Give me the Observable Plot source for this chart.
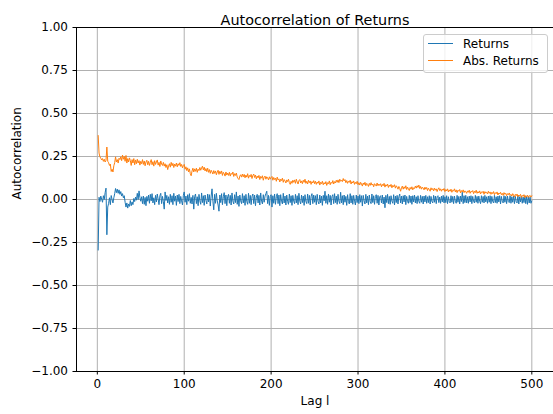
<!DOCTYPE html>
<html>
<head>
<meta charset="utf-8">
<script src="https://cdn.jsdelivr.net/npm/d3@7"></script>
<script src="https://cdn.jsdelivr.net/npm/@observablehq/plot@0.6"></script>
<style>
  body { margin: 0; background: #fff; }
  #wrap { position: relative; width: 553px; height: 414px; font-family: "DejaVu Sans", sans-serif; }
  #legend { position: absolute; left: 423px; top: 34px; }
</style>
</head>
<body>
<div id="wrap"></div>
<script>
const title = "Autocorrelation of Returns";
const xLabel = "Lag l";
const yLabel = "Autocorrelation";
const seriesNames = ["Returns", "Abs. Returns"];
const seriesColors = ["#1f77b4", "#ff7f0e"];
const xTicks = [0, 100, 200, 300, 400, 500];
const yTicks = [-1, -0.75, -0.5, -0.25, 0, 0.25, 0.5, 0.75, 1];

// autocorrelation of returns, lags 1..500
const returns = [
-0.294,0.013,-0.012,0.020,0.002,-0.016,0.022,0.000,0.040,0.066,-0.205,-0.044,-0.022,0.010,-0.030,0.023,0.000,-0.020,0.010,0.034,0.064,0.040,0.060,0.036,0.056,
0.030,0.046,0.020,0.034,0.010,0.022,-0.016,-0.044,-0.020,-0.050,-0.026,-0.040,-0.006,-0.036,-0.014,-0.030,0.006,-0.012,0.014,-0.004,0.036,0.000,0.050,0.012,-0.010,
0.016,-0.024,0.020,-0.028,0.012,-0.036,0.018,-0.010,0.026,-0.022,0.030,-0.008,0.034,-0.020,0.010,-0.030,0.024,-0.014,0.032,0.002,-0.030,0.022,0.036,-0.024,0.018,
-0.012,-0.056,0.044,-0.006,0.024,-0.020,0.016,-0.028,0.030,-0.016,0.022,-0.030,0.036,-0.010,0.020,-0.034,0.026,-0.012,0.030,-0.024,0.018,-0.008,-0.032,0.024,0.044,
-0.016,0.020,-0.030,0.028,-0.010,0.034,-0.022,0.012,-0.026,0.024,-0.056,0.018,0.032,-0.024,0.016,-0.036,0.030,-0.008,-0.028,0.038,-0.018,0.022,-0.034,0.026,-0.006,
-0.026,0.032,-0.014,0.028,-0.038,0.020,0.062,-0.010,-0.060,0.030,-0.022,0.036,-0.008,-0.032,-0.068,0.026,-0.018,0.034,-0.030,0.016,0.040,-0.024,0.026,-0.036,0.018,
0.030,-0.022,0.024,-0.032,0.038,-0.010,-0.026,0.028,-0.018,0.044,-0.028,0.020,-0.040,0.026,-0.008,-0.024,0.034,-0.020,0.022,-0.034,0.030,-0.012,-0.028,0.036,-0.022,
0.024,-0.030,0.018,0.032,-0.024,0.026,-0.036,0.014,0.030,-0.020,0.024,-0.032,0.038,-0.010,-0.026,0.028,-0.016,0.020,0.034,0.048,-0.024,0.024,-0.034,0.018,0.028,
-0.044,0.022,-0.022,0.032,-0.028,0.016,0.034,-0.024,0.026,-0.036,0.028,-0.010,-0.026,0.036,-0.020,0.020,-0.032,0.026,-0.012,-0.028,0.032,-0.018,0.022,-0.034,0.024,
-0.010,-0.024,0.030,-0.020,0.022,-0.030,0.036,-0.010,-0.026,0.026,-0.018,0.020,-0.034,0.028,-0.012,-0.024,0.032,-0.022,0.024,-0.032,0.018,0.034,-0.024,0.026,-0.016,
0.022,-0.030,0.030,-0.012,-0.026,0.026,-0.020,0.020,-0.034,0.024,-0.008,0.048,-0.022,0.022,-0.028,0.032,-0.016,0.024,-0.032,0.018,0.028,-0.024,0.034,-0.018,0.020,
-0.028,0.030,-0.010,-0.024,0.042,-0.020,0.022,-0.030,0.026,-0.016,0.018,-0.034,0.028,-0.012,-0.026,0.034,-0.020,0.022,-0.028,0.024,-0.010,-0.032,0.026,-0.018,0.020,
-0.024,0.028,-0.016,0.022,-0.038,0.024,-0.008,-0.026,0.030,-0.020,0.020,-0.030,0.026,-0.012,-0.024,0.032,-0.018,0.022,-0.028,0.018,0.028,-0.022,0.024,-0.032,0.016,
0.022,-0.020,0.026,-0.026,0.014,-0.048,0.024,-0.018,0.030,-0.024,0.018,-0.028,0.022,-0.010,-0.022,0.028,-0.032,0.020,-0.018,0.024,-0.026,0.016,0.032,-0.020,0.020,
-0.026,0.022,-0.014,0.026,-0.030,0.018,-0.012,-0.022,0.024,-0.018,0.020,-0.028,0.022,-0.014,0.026,-0.020,0.016,-0.024,0.022,-0.012,-0.022,0.024,-0.016,0.018,-0.026,
0.020,-0.014,0.024,-0.022,0.016,-0.018,0.022,-0.026,0.018,-0.012,-0.020,0.024,-0.016,0.020,-0.024,0.016,0.022,-0.018,0.014,-0.022,0.020,-0.014,0.024,-0.020,0.016,
-0.018,0.022,-0.024,0.016,-0.012,-0.020,0.022,-0.016,0.018,-0.024,0.020,-0.010,-0.022,0.024,-0.016,0.018,-0.026,0.020,-0.012,0.042,-0.024,0.022,-0.018,0.024,-0.020,
0.016,-0.022,0.020,-0.014,0.022,-0.024,0.018,-0.012,-0.020,0.024,-0.016,0.018,-0.022,0.020,-0.010,-0.024,0.022,-0.016,0.018,-0.020,0.024,-0.014,0.016,-0.022,0.020,
-0.016,0.022,-0.024,0.018,-0.012,-0.020,0.024,-0.018,0.016,-0.022,0.020,-0.014,0.022,-0.026,0.018,-0.010,-0.020,0.022,-0.016,0.018,-0.024,0.020,-0.012,-0.018,0.022,
-0.022,0.016,-0.016,0.020,-0.024,0.018,-0.012,-0.020,0.022,-0.026,0.016,-0.014,0.020,-0.022,0.014,-0.018,0.022,-0.024,0.016,-0.028,0.018,-0.020,0.014,-0.022,-0.008
];

// autocorrelation of absolute returns, lags 1..500
const absReturns = [
0.372,0.270,0.248,0.240,0.230,0.238,0.222,0.234,0.218,0.228,0.305,0.222,0.214,0.198,0.206,0.163,0.176,0.160,0.196,0.214,0.248,0.218,0.232,0.212,0.240,
0.232,0.248,0.226,0.258,0.234,0.250,0.222,0.256,0.212,0.238,0.218,0.242,0.226,0.198,0.232,0.212,0.238,0.202,0.230,0.208,0.234,0.212,0.226,0.200,0.222,
0.208,0.232,0.204,0.224,0.196,0.218,0.228,0.202,0.222,0.198,0.216,0.232,0.202,0.220,0.194,0.226,0.204,0.218,0.230,0.200,0.216,0.192,0.224,0.206,0.198,
0.216,0.194,0.208,0.186,0.202,0.174,0.194,0.208,0.188,0.216,0.196,0.210,0.186,0.206,0.194,0.212,0.190,0.208,0.198,0.214,0.192,0.204,0.184,0.198,0.204,
0.176,0.190,0.168,0.184,0.160,0.178,0.150,0.138,0.166,0.182,0.160,0.178,0.164,0.182,0.158,0.176,0.168,0.186,0.170,0.184,0.194,0.172,0.188,0.166,0.180,
0.162,0.182,0.158,0.174,0.152,0.170,0.160,0.148,0.168,0.152,0.166,0.144,0.160,0.170,0.146,0.164,0.150,0.166,0.140,0.158,0.150,0.136,0.160,0.142,0.154,
0.140,0.158,0.136,0.152,0.146,0.160,0.134,0.150,0.140,0.154,0.130,0.122,0.116,0.136,0.144,0.130,0.148,0.132,0.146,0.126,0.142,0.130,0.150,0.124,0.140,
0.132,0.146,0.122,0.140,0.148,0.128,0.142,0.120,0.136,0.126,0.140,0.116,0.134,0.124,0.138,0.112,0.130,0.136,0.118,0.132,0.126,0.114,0.132,0.118,0.128,
0.134,0.112,0.128,0.116,0.124,0.106,0.130,0.114,0.120,0.102,0.118,0.110,0.124,0.100,0.116,0.108,0.096,0.114,0.104,0.118,0.098,0.088,0.106,0.094,0.112,
0.100,0.114,0.094,0.118,0.102,0.090,0.110,0.116,0.096,0.108,0.092,0.112,0.100,0.118,0.094,0.106,0.090,0.112,0.098,0.108,0.088,0.104,0.096,0.110,0.092,
0.106,0.088,0.102,0.094,0.108,0.084,0.100,0.092,0.106,0.086,0.098,0.090,0.104,0.082,0.098,0.092,0.108,0.086,0.100,0.094,0.110,0.090,0.104,0.096,0.112,
0.100,0.114,0.098,0.118,0.106,0.112,0.104,0.122,0.108,0.116,0.098,0.110,0.094,0.106,0.100,0.112,0.090,0.104,0.096,0.108,0.088,0.100,0.092,0.106,0.086,
0.098,0.084,0.100,0.090,0.078,0.096,0.086,0.100,0.080,0.094,0.088,0.076,0.094,0.082,0.098,0.084,0.090,0.074,0.092,0.086,0.078,0.096,0.080,0.090,0.082,
0.092,0.074,0.088,0.080,0.094,0.072,0.086,0.078,0.090,0.070,0.084,0.076,0.088,0.068,0.082,0.074,0.086,0.066,0.080,0.072,0.060,0.076,0.064,0.048,0.068,
0.078,0.060,0.074,0.064,0.080,0.058,0.072,0.062,0.052,0.070,0.060,0.074,0.056,0.068,0.064,0.078,0.066,0.080,0.070,0.084,0.064,0.076,0.060,0.072,0.066,
0.056,0.072,0.060,0.070,0.052,0.066,0.058,0.048,0.068,0.056,0.064,0.050,0.066,0.054,0.062,0.046,0.060,0.068,0.052,0.062,0.048,0.060,0.054,0.064,0.046,
0.058,0.050,0.062,0.044,0.056,0.048,0.060,0.042,0.054,0.050,0.062,0.044,0.056,0.040,0.054,0.048,0.058,0.038,0.052,0.044,0.056,0.040,0.050,0.046,0.036,
0.050,0.042,0.054,0.036,0.048,0.044,0.052,0.034,0.048,0.040,0.054,0.036,0.046,0.038,0.050,0.032,0.044,0.040,0.048,0.030,0.046,0.038,0.042,0.032,0.048,
0.036,0.044,0.030,0.042,0.034,0.046,0.028,0.040,0.034,0.044,0.026,0.038,0.032,0.042,0.028,0.036,0.024,0.040,0.030,0.036,0.022,0.034,0.028,0.038,0.024,
0.030,0.020,0.034,0.026,0.014,0.030,0.022,0.032,0.016,0.026,0.020,0.030,0.012,0.024,0.018,0.028,0.010,0.022,0.016,0.026,0.012,0.020,0.024,0.014,0.022
];

const lags = returns.map((_, i) => i + 1);
const rows = lags.map((lag, i) => ({lag, returns: returns[i], absReturns: absReturns[i]}));

const fmtY = d => (d < 0 ? "\u2212" : "") + Math.abs(d).toFixed(2);

const chart = Plot.plot({
  width: 553,
  height: 414,
  marginLeft: 76,
  marginRight: 0,
  marginTop: 27,
  marginBottom: 43,
  style: {fontFamily: "'DejaVu Sans', sans-serif", fontSize: "12px", color: "#000", background: "#fff", overflow: "visible"},
  x: {domain: [-23.95, 524.95]},
  y: {domain: [-1, 1]},
  marks: [
    Plot.gridX(xTicks, {stroke: "#b0b0b0", strokeOpacity: 1, strokeWidth: 1}),
    Plot.gridY(yTicks, {stroke: "#b0b0b0", strokeOpacity: 1, strokeWidth: 1}),
    Plot.line(rows, {x: "lag", y: "returns", stroke: seriesColors[0], strokeWidth: 1}),
    Plot.line(rows, {x: "lag", y: "absReturns", stroke: seriesColors[1], strokeWidth: 1}),
    Plot.frame({stroke: "#000", strokeWidth: 1}),
    Plot.axisX(xTicks, {tickSize: 3.5, tickPadding: 4, label: null, tickFormat: d => String(d), fontSize: 12}),
    Plot.axisY(yTicks, {tickSize: 3.5, tickPadding: 5, label: null, tickFormat: fmtY, fontSize: 12}),
    Plot.text([title], {frameAnchor: "top", dy: -12.5, fontSize: 14.4, fill: "#000"}),
    Plot.text([xLabel], {frameAnchor: "bottom", dy: 33, fontSize: 12, fill: "#000"}),
    Plot.text([yLabel], {frameAnchor: "left", dx: -59, rotate: -90, fontSize: 12, fill: "#000"})
  ]
});

const wrap = document.getElementById("wrap");
wrap.appendChild(chart);

// legend (upper right, matplotlib-style box)
const lg = d3.create("svg")
  .attr("id", "legend")
  .attr("width", 126)
  .attr("height", 40)
  .style("font-family", "'DejaVu Sans', sans-serif")
  .style("font-size", "12px");
lg.append("rect")
  .attr("x", 0.5).attr("y", 0.5).attr("width", 124).attr("height", 38)
  .attr("rx", 2.5)
  .attr("fill", "rgba(255,255,255,0.8)")
  .attr("stroke", "#cccccc");
seriesNames.forEach((name, i) => {
  const cy = 9.5 + i * 17;
  lg.append("line")
    .attr("x1", 5).attr("x2", 30).attr("y1", cy).attr("y2", cy)
    .attr("stroke", seriesColors[i]).attr("stroke-width", 1);
  lg.append("text")
    .attr("x", 40).attr("y", cy).attr("dy", "0.35em")
    .attr("fill", "#000")
    .text(name);
});
wrap.appendChild(lg.node());
</script>
</body>
</html>
